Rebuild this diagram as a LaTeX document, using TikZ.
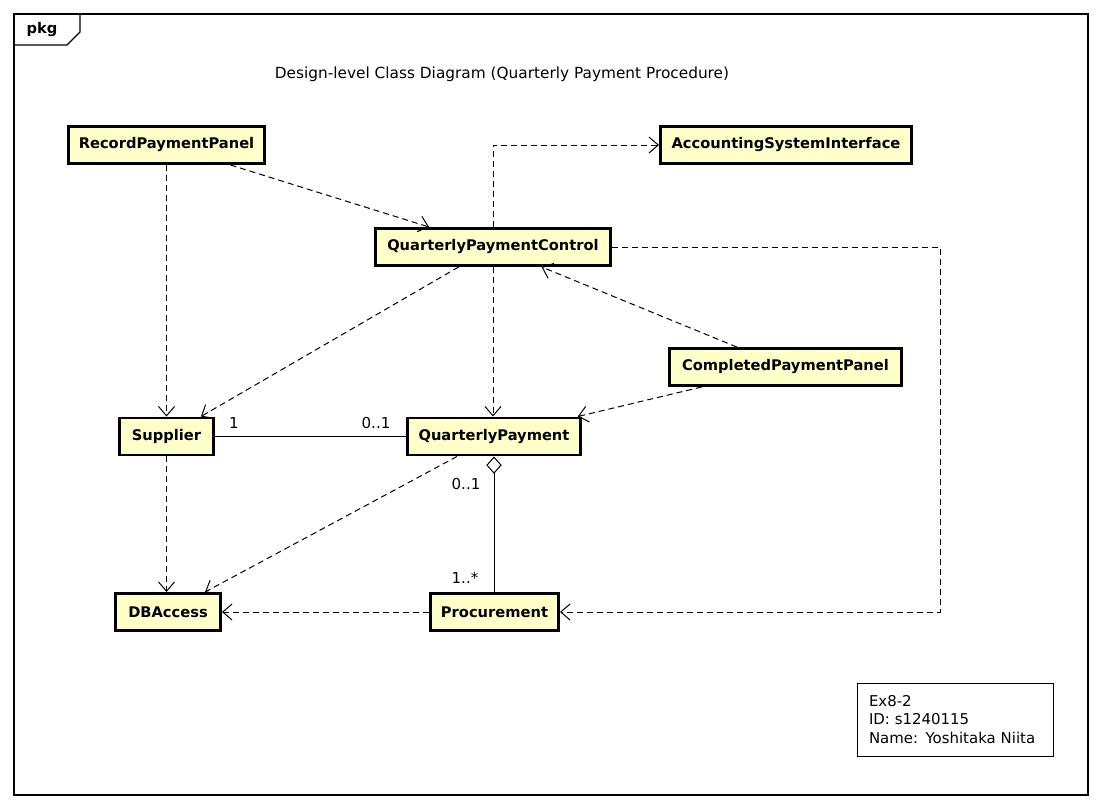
\documentclass[tikz,border=0pt]{standalone}
\usepackage{fontspec}
\setmainfont{DejaVu Sans}
\usetikzlibrary{arrows.meta}
\definecolor{Ink}{HTML}{000000}
\definecolor{Cream}{HTML}{FFFFCA}
\tikzset{
  classbox/.style={
    draw=Ink, line width=2.2pt, fill=Cream, inner sep=0pt,
    minimum height=27.75pt, font=\fontsize{11}{13}\selectfont\bfseries
  },
  dep/.style={-{Straight Barb[length=7pt,width=12pt]}, dash pattern=on 4.5pt off 3pt, line width=0.75pt, draw=Ink},
  assoc/.style={line width=0.75pt, draw=Ink},
  mult/.style={font=\fontsize{11.3}{13}\selectfont, inner sep=0pt}
}

\begin{document}
\begin{tikzpicture}[x=0.75pt,y=-0.75pt]
    \useasboundingbox (0,0) rectangle (1101,808);
    % package frame
    \draw[line width=1pt,Ink] (14,14) rectangle (1088,795);
    \draw[line width=1pt,Ink] (14,45) -- (67,45) -- (80,32) -- (80,14);
    \node[font=\fontsize{11}{13}\selectfont\bfseries] (pkg) at (42,30) {pkg};
    \node[font=\fontsize{11.5}{13}\selectfont] (title) at (502,74) {Design-level Class Diagram (Quarterly Payment Procedure)};

    % classes
    \node[classbox, minimum width=147pt] (rpp) at (166.5,145) {RecordPaymentPanel};
    \node[classbox, minimum width=176.25pt] (qpc) at (493,247) {QuarterlyPaymentControl};
    \node[classbox, minimum width=188.25pt] (asi) at (786,145) {AccountingSystemInterface};
    \node[classbox, minimum width=174pt] (cpp) at (785.5,367) {CompletedPaymentPanel};
    \node[classbox, minimum width=70.5pt] (sup) at (166.5,436.5) {Supplier};
    \node[classbox, minimum width=129.75pt] (qp) at (494,436.5) {QuarterlyPayment};
    \node[classbox, minimum width=78.75pt] (db) at (168,612) {DBAccess};
    \node[classbox, minimum width=96pt] (proc) at (494.5,612) {Procurement};

    % dependencies
    \draw[dep] (rpp.south) -- (sup.north);
    \draw[dep] (rpp) -- (qpc);
    \draw[dep] (qpc.north) |- (asi.west);
    \draw[dep] (qpc) -- (sup);
    \draw[dep] (qpc.south) -- (qpc.south |- qp.north);
    \draw[dep] (cpp) -- (qpc);
    \draw[dep] (cpp) -- (qp);
    \coordinate (bend) at (940,247);
    \draw[dep] (qpc.east) -- (bend) |- (proc.east);
    \draw[dep] (sup.south) -- (sup.south |- db.north);
    \draw[dep] (qp) -- (db);
    \draw[dep] (proc) -- (db);

    % associations
    \draw[assoc] (sup.east) -- (qp.west);
    \draw[assoc, {Diamond[open,length=13pt,width=11.5pt]}-] (qp.south) -- (qp.south |- proc.north);
    \node[mult] (m1) at (234,423) {1};
    \node[mult] (m2) at (376,423) {0..1};
    \node[mult] (m3) at (466,484) {0..1};
    \node[mult] (m4) at (465,578) {1..*};

    % note
    \node[draw=Ink, line width=0.75pt, minimum width=147pt, minimum height=54.75pt,
      text width=129pt, align=left, inner sep=0pt,
      font=\fontsize{11.2}{13.9}\selectfont] (note) at (955,719.5)
      {Ex8-2\\ID: s1240115\\Name: Yoshitaka Niita};
  \end{tikzpicture}
\end{document}
